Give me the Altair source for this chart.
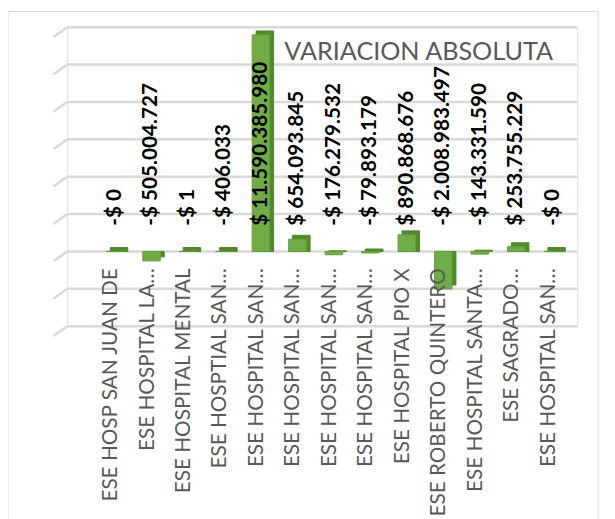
import altair as alt
import pandas as pd

categories = [
    "ESE HOSP SAN JUAN DE",
    "ESE HOSPITAL LA…",
    "ESE HOSPITAL MENTAL",
    "ESE HOSPTIAL SAN…",
    "ESE HOSPITAL SAN…",
    "ESE HOSPITAL SAN…",
    "ESE HOSPITAL SAN…",
    "ESE HOSPITAL SAN…",
    "ESE HOSPITAL PIO X",
    "ESE ROBERTO QUINTERO",
    "ESE HOSPITAL SANTA…",
    "ESE SAGRADO…",
    "ESE HOSPITAL SAN…",
]
values = [
    -0.3,
    -505004727,
    -1,
    -406033,
    11590385980,
    654093845,
    -176279532,
    -79893179,
    890868676,
    -2008983497,
    -143331590,
    253755229,
    -0.3,
]
grid_values = [-4e9, -2e9, 0, 2e9, 4e9, 6e9, 8e9, 10e9, 12e9]
title_text = "VARIACION ABSOLUTA"


def fmt(v):
    sign = "-" if v < 0 else ""
    return f"{sign}$ {abs(round(v)):,}".replace(",", ".")


df = pd.DataFrame({
    "key": [str(i) for i in range(len(categories))],
    "cat": categories,
    "v": values,
    "lab": [fmt(v) for v in values],
})
gdf = pd.DataFrame({"g": grid_values})
tdf = pd.DataFrame({"t": [title_text]})

FONT = "Lato"
xenc = alt.X("key:N", sort=None, axis=None,
             scale=alt.Scale(paddingInner=0.52, paddingOuter=0.755, align=0.71))
yscale = alt.Scale(domain=[-4e9, 12e9], nice=False, zero=False)

base = alt.Chart(df)

frame = alt.Chart(tdf).mark_rect(fill=None, stroke="#d9d9d9", strokeWidth=1).encode(
    x=alt.value(-60), x2=alt.value(538), y=alt.value(-16), y2=alt.value(520)
)

title = alt.Chart(tdf).mark_text(
    align="left", baseline="alphabetic", font=FONT, fontSize=25.5, color="#595959"
).encode(x=alt.value(220), y=alt.value(33), text="t:N")

grid = alt.Chart(gdf).mark_rule(color="#d9d9d9", strokeWidth=2.5).encode(
    y=alt.Y("g:Q", scale=yscale, axis=None),
    x=alt.value(0), x2=alt.value(517),
)
grid_slant = alt.Chart(gdf).mark_rule(color="#d9d9d9", strokeWidth=2.5, yOffset=10, y2Offset=0).encode(
    y=alt.Y("g:Q", scale=yscale),
    y2="g:Q",
    x=alt.value(-14), x2=alt.value(0),
)

depth = base.mark_bar(color="#4f8a2c", stroke="#4f8a2c", strokeWidth=1, xOffset=4, yOffset=-4).encode(
    x=xenc,
    y=alt.Y("v:Q", scale=yscale),
    y2=alt.datum(0),
)
front = base.mark_bar(color="#70ad47", stroke="#62a03c", strokeWidth=1).encode(
    x=xenc,
    y=alt.Y("v:Q", scale=yscale),
    y2=alt.datum(0),
)

data_labels = base.mark_text(
    angle=270, align="left", baseline="middle", font=FONT, fontSize=21,
    fontWeight="bold", color="#000000", yOffset=-26,
).encode(x=xenc, y=alt.datum(0), text="lab:N")

cat_labels = base.mark_text(
    angle=270, align="right", baseline="middle", font=FONT, fontSize=21,
    color="#595959", yOffset=17, xOffset=-4,
).encode(x=xenc, y=alt.datum(0), text="cat:N")

chart = alt.layer(frame, grid, grid_slant, depth, front, cat_labels, data_labels, title).properties(
    width=517,
    height=303,
    padding={"left": 60, "top": 16, "right": 30, "bottom": 200},
    autosize="none",
).configure_view(stroke=None).configure(background="white")

chart.save("out.html", embed_options={"renderer": "svg", "actions": False})
